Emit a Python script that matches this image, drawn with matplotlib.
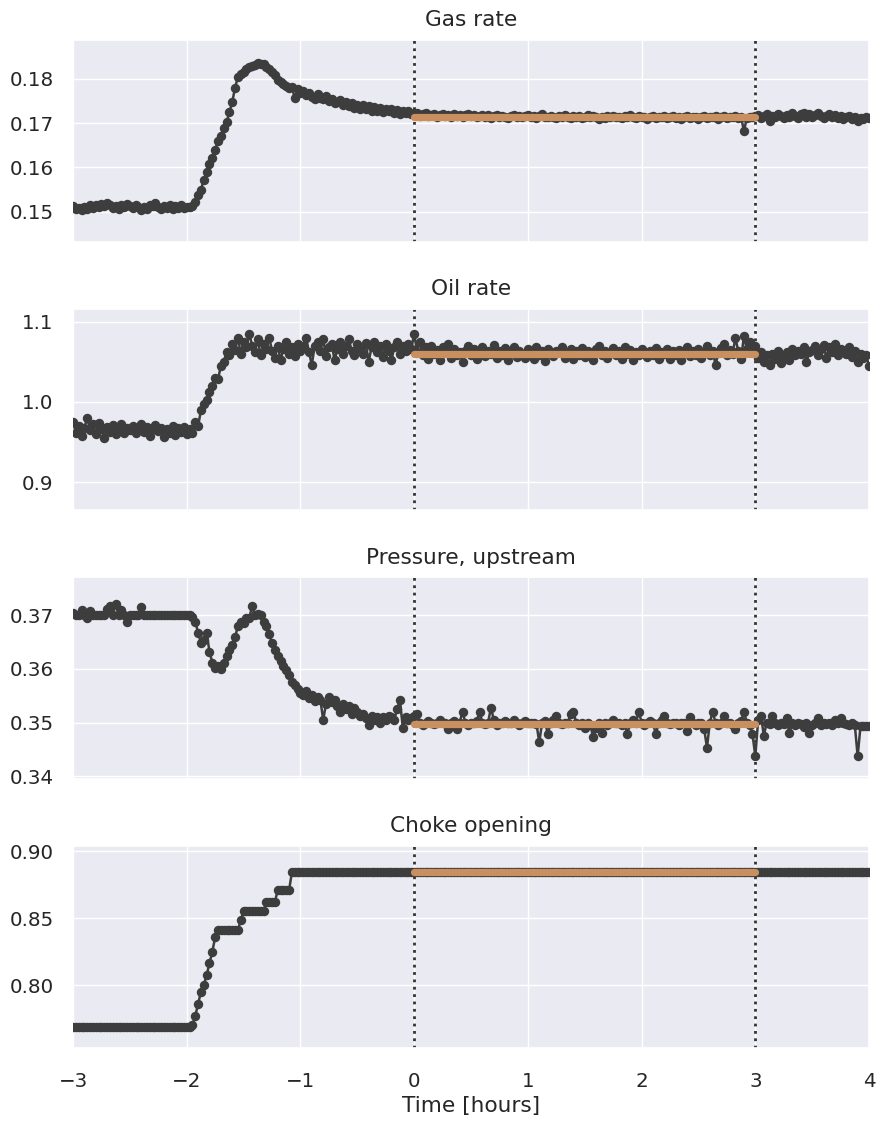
import numpy as np
import matplotlib
matplotlib.use("Agg")
import matplotlib.pyplot as plt
import seaborn as sns

# ---------------- data (sampled every 0.025 h, from -3 h to 4 h) ----------------
time_hours = np.round(np.arange(-3.0, 4.0001, 0.025), 3)

gas_rate = [
    # -3.000 .. -1.975
    0.1512, 0.1506, 0.1509, 0.1503, 0.1511, 0.1507, 0.1514, 0.1509, 0.1516, 0.1511,
    0.1518, 0.1513, 0.1520, 0.1515, 0.1509, 0.1512, 0.1506, 0.1514, 0.1510, 0.1517,
    0.1512, 0.1508, 0.1515, 0.1510, 0.1503, 0.1511, 0.1507, 0.1516, 0.1512, 0.1519,
    0.1510, 0.1505, 0.1513, 0.1509, 0.1515, 0.1507, 0.1512, 0.1509, 0.1514, 0.1508,
    0.1511, 0.1510,
    # -1.950 .. 0.000
    0.1513, 0.1522, 0.1538, 0.1550, 0.1572, 0.1590, 0.1608, 0.1622, 0.1640, 0.1660,
    0.1672, 0.1690, 0.1702, 0.1725, 0.1748, 0.1780, 0.1805, 0.1810, 0.1815, 0.1822,
    0.1826, 0.1830, 0.1832, 0.1835, 0.1833, 0.1834, 0.1828, 0.1822, 0.1815, 0.1808,
    0.1798, 0.1792, 0.1788, 0.1784, 0.1779, 0.1781, 0.1757, 0.1777, 0.1768, 0.1772,
    0.1764, 0.1769, 0.1760, 0.1755, 0.1765, 0.1756, 0.1755, 0.1761, 0.1749, 0.1755,
    0.1746, 0.1748, 0.1752, 0.1740, 0.1747, 0.1738, 0.1745, 0.1735, 0.1742, 0.1733,
    0.1740, 0.1731, 0.1738, 0.1728, 0.1736, 0.1727, 0.1735, 0.1725, 0.1733, 0.1727,
    0.1731, 0.1723, 0.1730, 0.1721, 0.1728, 0.1722, 0.1727, 0.1720, 0.1724,
    # 0.025 .. 3.000
    0.1722, 0.1717, 0.1720, 0.1724, 0.1716, 0.1719, 0.1721, 0.1715, 0.1718, 0.1720,
    0.1716, 0.1719, 0.1714, 0.1721, 0.1717, 0.1719, 0.1715, 0.1718, 0.1720, 0.1716,
    0.1718, 0.1713, 0.1717, 0.1719, 0.1715, 0.1718, 0.1712, 0.1716, 0.1719, 0.1714,
    0.1717, 0.1715, 0.1711, 0.1716, 0.1719, 0.1714, 0.1717, 0.1713, 0.1716, 0.1718,
    0.1714, 0.1717, 0.1712, 0.1716, 0.1720, 0.1715, 0.1713, 0.1717, 0.1714, 0.1711,
    0.1716, 0.1713, 0.1718, 0.1715, 0.1712, 0.1716, 0.1714, 0.1717, 0.1711, 0.1715,
    0.1718, 0.1713, 0.1716, 0.1714, 0.1710, 0.1715, 0.1712, 0.1716, 0.1714, 0.1717,
    0.1713, 0.1715, 0.1711, 0.1716, 0.1713, 0.1718, 0.1714, 0.1712, 0.1716, 0.1713,
    0.1715, 0.1710, 0.1714, 0.1717, 0.1712, 0.1715, 0.1713, 0.1716, 0.1711, 0.1714,
    0.1716, 0.1712, 0.1715, 0.1709, 0.1714, 0.1716, 0.1712, 0.1715, 0.1713, 0.1710,
    0.1714, 0.1717, 0.1712, 0.1715, 0.1713, 0.1716, 0.1710, 0.1714, 0.1716, 0.1712,
    0.1715, 0.1713, 0.1716, 0.1711, 0.1714, 0.1682, 0.1712, 0.1715, 0.1713, 0.1716,
    # 3.025 .. 4.000
    0.1718, 0.1711, 0.1716, 0.1720, 0.1704, 0.1717, 0.1713, 0.1721, 0.1716, 0.1712,
    0.1719, 0.1714, 0.1722, 0.1717, 0.1712, 0.1720, 0.1723, 0.1715, 0.1721, 0.1713,
    0.1719, 0.1724, 0.1716, 0.1711, 0.1717, 0.1720, 0.1713, 0.1718, 0.1711, 0.1716,
    0.1709, 0.1714, 0.1717, 0.1710, 0.1715, 0.1704, 0.1712, 0.1709, 0.1713, 0.1711,
]

oil_rate = [
    # -3.000 .. -1.975
    0.975, 0.962, 0.970, 0.958, 0.968, 0.980, 0.965, 0.972, 0.960, 0.974,
    0.966, 0.955, 0.969, 0.963, 0.971, 0.960, 0.967, 0.973, 0.962, 0.968,
    0.965, 0.970, 0.961, 0.967, 0.972, 0.963, 0.969, 0.958, 0.966, 0.971,
    0.964, 0.968, 0.956, 0.966, 0.962, 0.970, 0.959, 0.967, 0.963, 0.969,
    0.960, 0.966,
    # -1.950 .. 0.000
    0.962, 0.975, 0.970, 0.990, 0.998, 1.002, 1.012, 1.020, 1.030, 1.028,
    1.045, 1.050, 1.062, 1.058, 1.072, 1.065, 1.080, 1.060, 1.075, 1.068,
    1.085, 1.070, 1.062, 1.078, 1.058, 1.072, 1.066, 1.080, 1.064, 1.055,
    1.070, 1.052, 1.066, 1.074, 1.060, 1.068, 1.057, 1.072, 1.064, 1.070,
    1.080, 1.062, 1.046, 1.070, 1.075, 1.063, 1.078, 1.057, 1.068, 1.072,
    1.052, 1.066, 1.074, 1.060, 1.070, 1.078, 1.064, 1.058, 1.072, 1.066,
    1.060, 1.073, 1.050, 1.068, 1.075, 1.062, 1.070, 1.056, 1.072, 1.064,
    1.052, 1.068, 1.074, 1.060, 1.070, 1.063, 1.072, 1.066, 1.085,
    # 0.025 .. 3.000
    1.062, 1.075, 1.058, 1.068, 1.054, 1.070, 1.060, 1.065, 1.052, 1.068,
    1.063, 1.072, 1.055, 1.066, 1.059, 1.062, 1.050, 1.064, 1.070, 1.058,
    1.066, 1.053, 1.062, 1.068, 1.057, 1.064, 1.060, 1.071, 1.055, 1.063,
    1.058, 1.067, 1.052, 1.062, 1.069, 1.056, 1.064, 1.060, 1.055, 1.066,
    1.061, 1.054, 1.068, 1.059, 1.063, 1.051, 1.066, 1.060, 1.057, 1.064,
    1.062, 1.069, 1.055, 1.061, 1.066, 1.053, 1.063, 1.058, 1.067, 1.056,
    1.064, 1.060, 1.052, 1.066, 1.070, 1.058, 1.063, 1.055, 1.061, 1.067,
    1.059, 1.063, 1.054, 1.068, 1.060, 1.065, 1.052, 1.062, 1.058, 1.066,
    1.061, 1.056, 1.064, 1.059, 1.067, 1.054, 1.062, 1.060, 1.066, 1.053,
    1.063, 1.058, 1.065, 1.052, 1.061, 1.068, 1.057, 1.063, 1.059, 1.066,
    1.055, 1.062, 1.070, 1.058, 1.064, 1.046, 1.061, 1.067, 1.072, 1.058,
    1.065, 1.060, 1.080, 1.063, 1.054, 1.082, 1.066, 1.075, 1.062, 1.070,
    # 3.025 .. 4.000
    1.055, 1.062, 1.050, 1.058, 1.046, 1.060, 1.054, 1.063, 1.048, 1.057,
    1.062, 1.052, 1.066, 1.058, 1.064, 1.060, 1.068, 1.050, 1.062, 1.065,
    1.070, 1.058, 1.066, 1.071, 1.055, 1.068, 1.062, 1.072, 1.058, 1.066,
    1.063, 1.060, 1.068, 1.056, 1.064, 1.050, 1.060, 1.055, 1.058, 1.045,
]

pressure_upstream = [
    # -3.000 .. -1.975
    0.3705, 0.3700, 0.3700, 0.3710, 0.3700, 0.3695, 0.3708, 0.3700, 0.3700, 0.3700,
    0.3700, 0.3700, 0.3712, 0.3718, 0.3700, 0.3722, 0.3700, 0.3710, 0.3700, 0.3688,
    0.3700, 0.3700, 0.3700, 0.3700, 0.3716, 0.3700, 0.3700, 0.3700, 0.3700, 0.3700,
    0.3700, 0.3700, 0.3700, 0.3700, 0.3700, 0.3700, 0.3700, 0.3700, 0.3700, 0.3700,
    0.3700, 0.3700,
    # -1.950 .. 0.000
    0.3698, 0.3688, 0.3668, 0.3648, 0.3655, 0.3668, 0.3632, 0.3612, 0.3602, 0.3605,
    0.3600, 0.3612, 0.3625, 0.3635, 0.3645, 0.3660, 0.3680, 0.3688, 0.3685, 0.3695,
    0.3695, 0.3718, 0.3700, 0.3703, 0.3700, 0.3688, 0.3680, 0.3665, 0.3648, 0.3635,
    0.3625, 0.3615, 0.3605, 0.3598, 0.3588, 0.3575, 0.3570, 0.3562, 0.3555, 0.3552,
    0.3558, 0.3545, 0.3552, 0.3540, 0.3548, 0.3542, 0.3505, 0.3535, 0.3548, 0.3538,
    0.3542, 0.3530, 0.3520, 0.3535, 0.3525, 0.3530, 0.3515, 0.3528, 0.3520, 0.3512,
    0.3515, 0.3508, 0.3495, 0.3512, 0.3505, 0.3510, 0.3500, 0.3510, 0.3505, 0.3512,
    0.3510, 0.3505, 0.3525, 0.3542, 0.3490, 0.3510, 0.3505, 0.3508, 0.3512,
    # 0.025 .. 3.000
    0.3516, 0.3500, 0.3496, 0.3500, 0.3502, 0.3500, 0.3498, 0.3500, 0.3505, 0.3500,
    0.3500, 0.3488, 0.3500, 0.3502, 0.3488, 0.3500, 0.3520, 0.3500, 0.3495, 0.3500,
    0.3500, 0.3502, 0.3520, 0.3500, 0.3498, 0.3500, 0.3528, 0.3505, 0.3495, 0.3500,
    0.3500, 0.3502, 0.3500, 0.3500, 0.3505, 0.3500, 0.3495, 0.3500, 0.3502, 0.3500,
    0.3500, 0.3500, 0.3498, 0.3463, 0.3500, 0.3502, 0.3478, 0.3500, 0.3505, 0.3513,
    0.3500, 0.3498, 0.3500, 0.3500, 0.3515, 0.3520, 0.3500, 0.3495, 0.3500, 0.3490,
    0.3500, 0.3495, 0.3472, 0.3490, 0.3500, 0.3480, 0.3500, 0.3495, 0.3500, 0.3505,
    0.3500, 0.3500, 0.3495, 0.3500, 0.3478, 0.3500, 0.3505, 0.3500, 0.3520, 0.3500,
    0.3495, 0.3500, 0.3502, 0.3500, 0.3478, 0.3500, 0.3505, 0.3513, 0.3500, 0.3498,
    0.3500, 0.3500, 0.3495, 0.3500, 0.3500, 0.3485, 0.3510, 0.3500, 0.3495, 0.3500,
    0.3500, 0.3488, 0.3453, 0.3500, 0.3520, 0.3500, 0.3495, 0.3500, 0.3513, 0.3500,
    0.3500, 0.3495, 0.3488, 0.3500, 0.3502, 0.3520, 0.3500, 0.3495, 0.3478, 0.3437,
    # 3.025 .. 4.000
    0.3505, 0.3513, 0.3475, 0.3500, 0.3498, 0.3513, 0.3500, 0.3495, 0.3500, 0.3498,
    0.3508, 0.3480, 0.3500, 0.3495, 0.3500, 0.3498, 0.3492, 0.3500, 0.3480, 0.3495,
    0.3500, 0.3508, 0.3495, 0.3500, 0.3498, 0.3500, 0.3496, 0.3505, 0.3500, 0.3508,
    0.3500, 0.3498, 0.3495, 0.3500, 0.3495, 0.3437, 0.3493, 0.3493, 0.3493, 0.3493,
]

choke_opening = (
    [0.7690] * 42                      # -3.000 .. -1.975
    + [0.7700, 0.7770, 0.7860, 0.7950, 0.8000, 0.8075, 0.8164, 0.8250, 0.8358, 0.8410,
       0.8410, 0.8410, 0.8410, 0.8410, 0.8410, 0.8410, 0.8410, 0.8485, 0.8550, 0.8550,
       0.8555, 0.8555, 0.8555, 0.8555, 0.8555, 0.8555, 0.8620, 0.8620, 0.8620, 0.8620,
       0.8710, 0.8710, 0.8710, 0.8710, 0.8710, 0.8843, 0.8843, 0.8843, 0.8843, 0.8843]
    + [0.8843] * 199                   # -0.950 .. 4.000
)

titles = ["Gas rate", "Oil rate", "Pressure, upstream", "Choke opening"]
series = [gas_rate, oil_rate, pressure_upstream, choke_opening]
fit_levels = [0.1713, 1.060, 0.3497, 0.8843]
fit_window = [0.0, 3.0]
ylims = [(0.1432, 0.1888), (0.865, 1.116), (0.3394, 0.3771), (0.753, 0.9037)]
yticks = [[0.15, 0.16, 0.17, 0.18], [0.9, 1.0, 1.1],
          [0.34, 0.35, 0.36, 0.37], [0.80, 0.85, 0.90]]
xticks = [-3, -2, -1, 0, 1, 2, 3, 4]

# ---------------- style ----------------
sns.set_theme(style="darkgrid", font_scale=1.3)
plt.rcParams["font.family"] = ["DejaVu Sans"]

dark = "#3d3d3d"
tan = "#c98f5e"

fig, axes = plt.subplots(4, 1, figsize=(8.82, 11.23), dpi=100, sharex=True)
fig.subplots_adjust(left=0.0828, right=0.9853, top=0.9644, bottom=0.0668, hspace=0.332)

for ax, title, vals, lvl, yl, yt in zip(axes, titles, series, fit_levels, ylims, yticks):
    ax.plot(time_hours, vals, color=dark, marker="o", markersize=6.8,
            linewidth=1.8, markeredgewidth=0, zorder=3)
    ax.plot(fit_window, [lvl, lvl], color=tan, linewidth=5.2,
            solid_capstyle="round", zorder=4)
    for xv in fit_window:
        ax.axvline(xv, color="#333333", linestyle=":", linewidth=2.0, zorder=2)
    ax.set_title(title, fontsize=15.6, pad=10)
    ax.set_ylim(*yl)
    ax.set_yticks(yt)
    ax.set_xlim(-3, 4)
    ax.set_xticks(xticks)
    ax.tick_params(axis="y", labelsize=14.3, length=0, pad=14)
    ax.tick_params(axis="x", labelsize=14.3, length=0, pad=17)

axes[-1].set_xlabel("Time [hours]", fontsize=15.6, labelpad=4)

fig.savefig("out.png", dpi=100)
